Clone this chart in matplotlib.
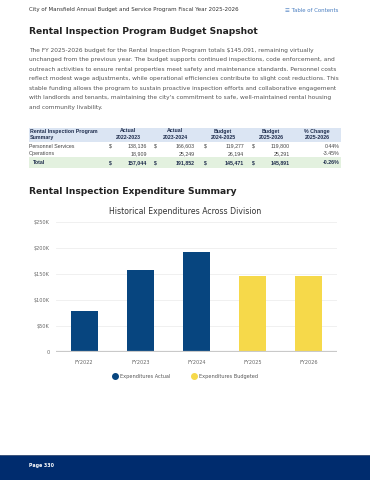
import matplotlib
matplotlib.use("Agg")
import matplotlib.pyplot as plt
from matplotlib.patches import Rectangle
from matplotlib.lines import Line2D
from matplotlib.ticker import FuncFormatter

# ---------------- data ----------------
header_text = "City of Mansfield Annual Budget and Service Program Fiscal Year 2025-2026"
toc_text = "\u2630 Table of Contents"
page_title = "Rental Inspection Program Budget Snapshot"
paragraph_lines = [
    "The FY 2025-2026 budget for the Rental Inspection Program totals \\$145,091, remaining virtually",
    "unchanged from the previous year. The budget supports continued inspections, code enforcement, and",
    "outreach activities to ensure rental properties meet safety and maintenance standards. Personnel costs",
    "reflect modest wage adjustments, while operational efficiencies contribute to slight cost reductions. This",
    "stable funding allows the program to sustain proactive inspection efforts and collaborative engagement",
    "with landlords and tenants, maintaining the city's commitment to safe, well-maintained rental housing",
    "and community livability.",
]
table_headers = [("Rental Inspection Program", "Summary"), ("Actual", "2022-2023"), ("Actual", "2023-2024"),
                 ("Budget", "2024-2025"), ("Budget", "2025-2026"), ("% Change", "2025-2026")]
row_labels = ["Personnel Services", "Operations", "Total"]
personnel_values = ["138,136", "166,603", "119,277", "119,800"]
operations_values = ["18,909", "25,249", "26,194", "25,291"]
total_values = ["157,044", "191,852", "145,471", "145,891"]
pct_change = ["0.44%", "-3.45%", "-0.26%"]
section_title = "Rental Inspection Expenditure Summary"
chart_title = "Historical Expenditures Across Division"
actual_years = ["FY2022", "FY2023", "FY2024"]
actual_values = [78000, 157044, 191852]
budget_years = ["FY2025", "FY2026"]
budget_values = [145471, 145891]
y_ticks = [0, 50000, 100000, 150000, 200000, 250000]
legend_labels = ["Expenditures Actual", "Expenditures Budgeted"]
footer_text = "Page 330"

# ---------------- figure ----------------
W, H = 370, 480
fig = plt.figure(figsize=(W / 100, H / 100), dpi=100)
fig.patch.set_facecolor("white")

def fx(x):
    return x / W

def fy(y):
    return 1 - y / H

HEAD = "DejaVu Sans"
BODY = "DejaVu Sans"
TAB = "Liberation Sans"

fig.text(fx(29), fy(10), header_text, fontsize=3.95, color="#333333", va="center", family=BODY)
fig.text(fx(285), fy(11), toc_text, fontsize=3.85, color="#4a7fc1", va="center", family=BODY)

fig.text(fx(29), fy(32), page_title, fontsize=6.55, fontweight="bold", color="#222222", va="center", family=HEAD)

para_y = [50.7, 60, 69.4, 78.8, 88.2, 97.6, 107.0]
for yy, line in zip(para_y, paragraph_lines):
    fig.text(fx(29), fy(yy), line, fontsize=4.28, color="#555555", va="center", family=BODY)

# table backgrounds
fig.patches.append(Rectangle((fx(29), fy(141.7)), fx(341) - fx(29), (141.7 - 128.3) / H,
                             transform=fig.transFigure, facecolor="#dbe5f3", edgecolor="none", zorder=0))
fig.patches.append(Rectangle((fx(29), fy(167.7)), fx(341) - fx(29), (167.7 - 157.3) / H,
                             transform=fig.transFigure, facecolor="#e3f1df", edgecolor="none", zorder=0))

TFS = 3.75
head_centers = [None, 128, 175, 223, 271, 317]
fig.text(fx(30), fy(131), table_headers[0][0], fontsize=TFS, fontweight="bold", color="#1f2d4d", va="center", family=TAB)
fig.text(fx(30), fy(137.5), table_headers[0][1], fontsize=TFS, fontweight="bold", color="#1f2d4d", va="center", family=TAB)
for (h1, h2), cx in zip(table_headers[1:], head_centers[1:]):
    fig.text(fx(cx), fy(131), h1, fontsize=TFS, fontweight="bold", color="#1f2d4d", va="center", ha="center", family=TAB)
    fig.text(fx(cx), fy(137.5), h2, fontsize=TFS, fontweight="bold", color="#1f2d4d", va="center", ha="center", family=TAB)

dollar_x = [109, 154, 204, 252]
value_end = [147, 195, 244, 290]
pct_end = 340
row_y = [146, 153.3, 162.5]
rows = [personnel_values, operations_values, total_values]
for i, (lab, vals, yy) in enumerate(zip(row_labels, rows, row_y)):
    bold = "bold" if i == 2 else "normal"
    col = "#1f2d4d" if i == 2 else "#444444"
    xl = 33 if i == 2 else 29
    fig.text(fx(xl), fy(yy), lab, fontsize=TFS, fontweight=bold, color=col, va="center", family=TAB)
    for j, v in enumerate(vals):
        if i != 1:
            fig.text(fx(dollar_x[j]), fy(yy), "\\$", fontsize=TFS, fontweight=bold, color=col, va="center", family=TAB)
        fig.text(fx(value_end[j]), fy(yy), v, fontsize=TFS, fontweight=bold, color=col, va="center", ha="right", family=TAB)
    fig.text(fx(pct_end), fy(yy), pct_change[i], fontsize=TFS, fontweight=bold, color=col, va="center", ha="right", family=TAB)

fig.text(fx(29), fy(191.7), section_title, fontsize=6.55, fontweight="bold", color="#222222", va="center", family=HEAD)
fig.text(fx(185), fy(211.7), chart_title, fontsize=5.6, color="#333333", va="center", ha="center", family=BODY)

# ---------------- chart ----------------
ax = fig.add_axes([fx(56), fy(351.7), fx(337) - fx(56), (351.7 - 221.7) / H])
ax.bar(actual_years, actual_values, width=0.48, color="#07457f", zorder=3)
ax.bar(budget_years, budget_values, width=0.48, color="#f6d94a", zorder=3)
ax.set_xlim(-0.5, 4.5)
ax.set_ylim(0, 250000)
ax.set_yticks(y_ticks)
ax.yaxis.set_major_formatter(FuncFormatter(lambda v, p: "0" if v == 0 else f"${int(v/1000)}K"))
ax.grid(axis="y", color="#eeeeee", linewidth=0.6, zorder=0)
for s in ax.spines.values():
    s.set_visible(False)
ax.axhline(0, color="#c9c9c9", linewidth=1.6, zorder=4)
ax.tick_params(axis="both", length=0, labelsize=3.6, labelcolor="#666666")
ax.tick_params(axis="y", pad=4.5)
ax.tick_params(axis="x", pad=6)
for t in ax.get_xticklabels() + ax.get_yticklabels():
    t.set_family(BODY)

handles = [Line2D([], [], marker="o", linestyle="none", markersize=4, color="#07457f"),
           Line2D([], [], marker="o", linestyle="none", markersize=4, color="#f6d94a")]
fig.legend(handles, legend_labels, loc="center", bbox_to_anchor=(fx(185), fy(376.3)), ncol=2,
           frameon=False, fontsize=3.6, labelcolor="#555555", handletextpad=0.5, columnspacing=4.2,
           handlelength=1.0, borderpad=0)

# ---------------- footer ----------------
fig.patches.append(Rectangle((0, 0), 1, fy(455), transform=fig.transFigure,
                             facecolor="#002c6e", edgecolor="none", zorder=0))
fig.lines.append(Line2D([0, 1], [fy(455), fy(455)], transform=fig.transFigure, color="#4b5f80", linewidth=0.6))
fig.text(fx(29), fy(465.7), footer_text, fontsize=3.4, fontweight="bold", color="white", va="center", family=BODY)

fig.savefig("out.png", dpi=100)
